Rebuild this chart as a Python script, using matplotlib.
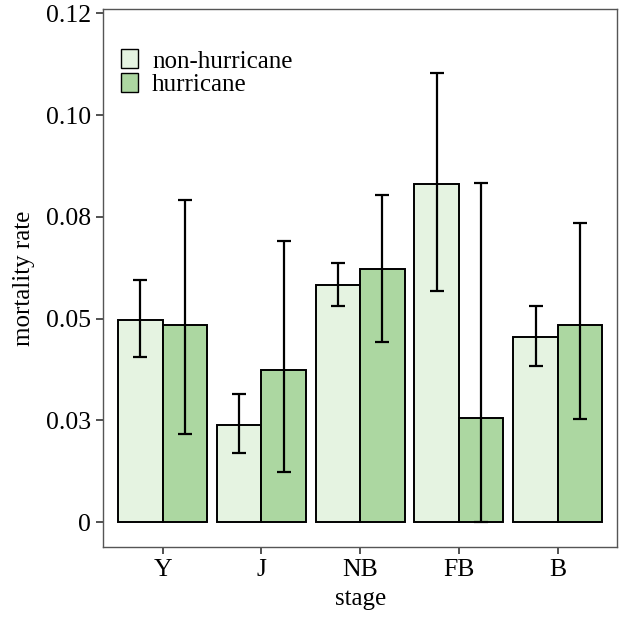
import numpy as np
from matplotlib import pyplot as plt
from matplotlib.patches import Patch

plt.rcParams['font.family'] = ['Liberation Serif', 'DejaVu Serif']

stages = ['Y', 'J', 'NB', 'FB', 'B']
groups = ['non-hurricane', 'hurricane']

# mortality rate per stage
non_rate = [0.0497, 0.0240, 0.0583, 0.0832, 0.0456]
non_low = [0.0405, 0.0171, 0.0530, 0.0567, 0.0385]
non_high = [0.0596, 0.0315, 0.0637, 0.1104, 0.0530]

hur_rate = [0.0484, 0.0374, 0.0622, 0.0257, 0.0485]
hur_low = [0.0217, 0.0124, 0.0443, 0.0, 0.0253]
hur_high = [0.0792, 0.0690, 0.0804, 0.0834, 0.0736]

y_ticks = [0, 0.025, 0.05, 0.075, 0.10, 0.125]
y_labels = ['0', '0.03', '0.05', '0.08', '0.10', '0.12']

colors = ['#e5f3e1', '#acd7a1']

fig = plt.figure(figsize=(6.21, 6.19), dpi=100)
ax = fig.add_axes([0.1663, 0.1168, 0.8273, 0.8682])

x = np.arange(len(stages))
w = 0.45
series = [(non_rate, non_low, non_high), (hur_rate, hur_low, hur_high)]
for i, (rate, low, high) in enumerate(series):
    pos = x + (i - 0.5) * w
    rate = np.array(rate)
    yerr = [rate - np.array(low), np.array(high) - rate]
    ax.bar(pos, rate, width=w, color=colors[i], edgecolor='black', linewidth=1.4, zorder=2)
    ax.errorbar(pos, rate, yerr=yerr, fmt='none', ecolor='black', elinewidth=1.6,
                capsize=5, capthick=1.6, zorder=3)

ax.set_xlim(-0.6, len(stages) - 0.4)
ax.set_ylim(-0.006, 0.126)
ax.set_xticks(x)
ax.set_xticklabels(stages)
ax.set_yticks(y_ticks)
ax.set_yticklabels(y_labels)
ax.tick_params(direction='out', length=5, width=1.2, color='#333333', labelsize=18.5, pad=4)
for s in ax.spines.values():
    s.set_color('#555555')
    s.set_linewidth(1.0)

ax.set_xlabel('stage', fontsize=18, labelpad=5)
ax.set_ylabel('mortality rate', fontsize=18, labelpad=8)

handles = [Patch(facecolor=colors[i], edgecolor='black', linewidth=1.0, label=groups[i]) for i in range(2)]
ax.legend(handles=handles, loc='upper left', frameon=False, fontsize=18,
          handlelength=0.7, handleheight=0.8, handletextpad=0.55, labelspacing=0.0,
          borderaxespad=0.3, bbox_to_anchor=(0.0, 0.958))

fig.savefig('out.png', dpi=100)
